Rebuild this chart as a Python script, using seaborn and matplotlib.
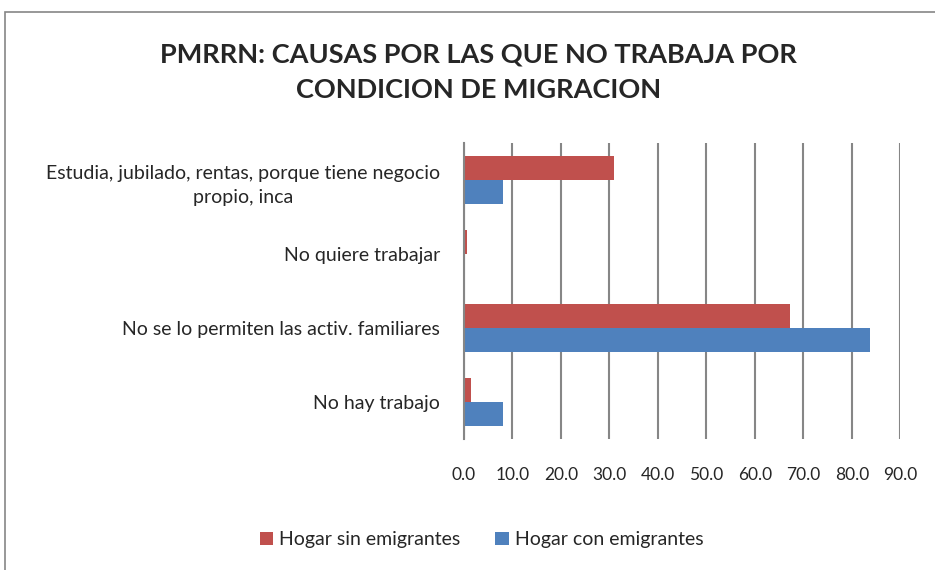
import pandas as pd
import seaborn as sns
import matplotlib.pyplot as plt
from matplotlib.patches import Rectangle

# Values (percent)
causas = [
    "Estudia, jubilado, rentas, porque tiene negocio\npropio, inca",
    "No quiere trabajar",
    "No se lo permiten las activ. familiares",
    "No hay trabajo",
]
sin_emigrantes = [31.0, 0.6, 67.2, 1.4]
con_emigrantes = [8.1, 0.0, 83.8, 8.1]
series = ["Hogar sin emigrantes", "Hogar con emigrantes"]
colores = ["#C0504D", "#4F81BD"]
x_ticks = [0, 10, 20, 30, 40, 50, 60, 70, 80, 90]

df = pd.DataFrame({
    "causa": causas * 2,
    "valor": sin_emigrantes + con_emigrantes,
    "hogar": [series[0]] * len(causas) + [series[1]] * len(causas),
})

sns.set_style("white")
plt.rcParams["font.family"] = ["Lato", "DejaVu Sans"]

fig = plt.figure(figsize=(9.35, 5.7), dpi=100)
ax = fig.add_axes([0.496, 0.230, 0.467, 0.519])

sns.barplot(data=df, y="causa", x="valor", hue="hogar", order=causas,
            hue_order=series, palette=colores, orient="h", width=0.65,
            gap=0.0, saturation=1, ax=ax, edgecolor="none")

ax.set_xlim(0, 90)
ax.set_xticks(x_ticks)
ax.set_xticklabels([f"{t:.1f}" for t in x_ticks], fontsize=12.5)
ax.tick_params(axis="x", length=0, pad=20)
ax.tick_params(axis="y", length=0, pad=17)
for lab in ax.get_yticklabels():
    lab.set_fontsize(14)
    lab.set_multialignment("center")
    lab.set_linespacing(1.55)
ax.grid(axis="x", color="#868686", linewidth=1.5)
ax.set_axisbelow(True)
for side in ["top", "right", "bottom"]:
    ax.spines[side].set_visible(False)
ax.spines["left"].set_color("#868686")
ax.spines["left"].set_linewidth(1.5)
ax.set_xlabel("")
ax.set_ylabel("")

ax.legend_.remove()
handles, labels = ax.get_legend_handles_labels()
fig.legend(handles, labels, loc="center", bbox_to_anchor=(0.515, 0.053), ncol=2,
           frameon=False, fontsize=14, handlelength=0.7, handleheight=0.7,
           handletextpad=0.3, columnspacing=1.8)

fig.text(0.512, 0.873, "PMRRN: CAUSAS POR LAS QUE NO TRABAJA POR\nCONDICION DE MIGRACION",
         ha="center", va="center", fontsize=19.5, fontweight="bold", linespacing=1.6)

# chart frame
fig.patches.append(Rectangle((5 / 935, -0.1), 1.0, 1.1 - 12 / 570, transform=fig.transFigure,
                             fill=False, edgecolor="#868686", linewidth=1.2))

fig.savefig("out.png", dpi=100)
